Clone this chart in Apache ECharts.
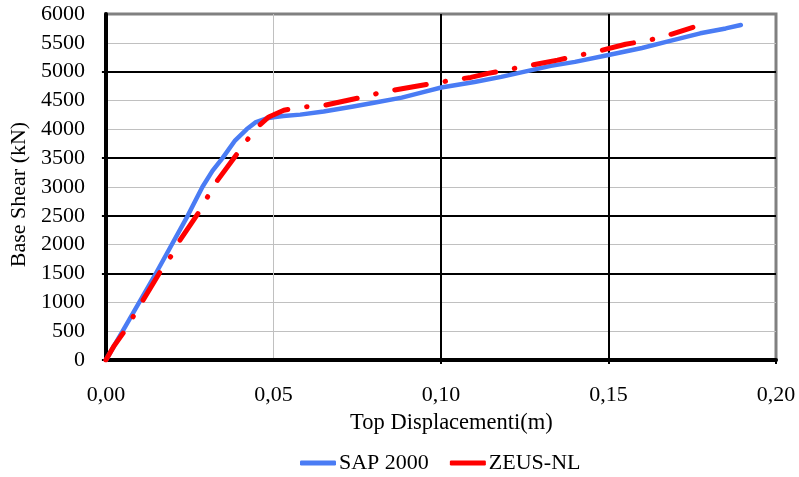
<!DOCTYPE html>
<html>
<head>
<meta charset="utf-8">
<script src="https://cdn.jsdelivr.net/npm/echarts@6/dist/echarts.min.js"></script>
<style>html,body{margin:0;padding:0;background:#fff}#c{width:799px;height:477px}</style>
</head>
<body>
<div id="c"></div>
<script>
// ---- data ----
const sapName = 'SAP 2000';
const zeusName = 'ZEUS-NL';
const sapDisp  = [0, 0.005, 0.0149, 0.0244, 0.0288, 0.0318, 0.0348, 0.0386, 0.042, 0.0446, 0.048, 0.050, 0.053, 0.058, 0.065, 0.0734, 0.080, 0.0883, 0.095, 0.1001, 0.110, 0.118, 0.125, 0.1328, 0.140, 0.150, 0.160, 0.1675, 0.1774, 0.185, 0.1895];
const sapShear = [0, 500, 1500, 2500, 3000, 3280, 3500, 3810, 4000, 4120, 4190, 4210, 4230, 4255, 4310, 4390, 4460, 4550, 4650, 4725, 4820, 4910, 5000, 5100, 5170, 5290, 5410, 5520, 5665, 5750, 5810];
const zeusDisp  = [0, 0.0025, 0.0053, 0.008, 0.011, 0.0161, 0.0192, 0.0219, 0.0276, 0.0303, 0.0333, 0.0392, 0.0425, 0.0447, 0.0486, 0.0531, 0.0585, 0.064, 0.0779, 0.0828, 0.1036, 0.1089, 0.1141, 0.1348, 0.140, 0.1455, 0.1551, 0.1606, 0.1655, 0.1752];
const zeusShear = [0, 250, 480, 740, 1030, 1520, 1780, 2060, 2550, 2825, 3115, 3580, 3840, 4015, 4215, 4330, 4390, 4400, 4575, 4650, 4855, 4900, 4970, 5200, 5270, 5335, 5475, 5530, 5590, 5770];
const xTickLabels = ['0,00', '0,05', '0,10', '0,15', '0,20'];
const yTickLabels = ['0','500','1000','1500','2000','2500','3000','3500','4000','4500','5000','5500','6000'];
const xTitle = 'Top Displacementi(m)';
const yTitle = 'Base Shear (kN)';

const FONT = 'Liberation Serif, Times New Roman, serif';
const T = 'transparent';
const sapData = sapDisp.map((d, i) => [d, sapShear[i]]);
const zeusData = zeusDisp.map((d, i) => [d, zeusShear[i]]);

const chart = echarts.init(document.getElementById('c'), null, {renderer: 'canvas'});
const xBase = {type: 'value', min: 0, max: 0.2, interval: 0.05, position: 'bottom'};
const yBase = {type: 'value', min: 0, max: 6000, interval: 500, position: 'left'};
chart.setOption({
  animation: false,
  backgroundColor: '#fff',
  grid: {left: 103, right: 23, top: 14, bottom: 117, show: true, borderColor: '#808080', borderWidth: 3, backgroundColor: 'transparent'},
  legend: {
    top: 447, left: 295, itemGap: 21, itemWidth: 36, itemHeight: 5,
    icon: 'roundRect',
    textStyle: {fontFamily: FONT, fontSize: 22, color: '#000', padding: [0, 0, 0, -2]},
    data: [sapName, zeusName]
  },
  xAxis: [
    Object.assign({}, xBase, {
      axisLine: {show: true, lineStyle: {color: '#000', width: 4}},
      axisTick: {show: false},
      axisLabel: {fontFamily: FONT, fontSize: 22, color: '#000', margin: 24,
        formatter: v => xTickLabels[Math.round(v / 0.05)]},
      splitLine: {show: true, lineStyle: {color: [T, '#c0c0c0', T, T, T], width: 1}},
      name: xTitle, nameLocation: 'middle', nameGap: 52,
      nameTextStyle: {fontFamily: FONT, fontSize: 22.5, color: '#000', padding: [0, 0, 0, 21]}
    }),
    Object.assign({}, xBase, {
      axisLine: {show: false}, axisTick: {show: false}, axisLabel: {show: false},
      splitLine: {show: true, lineStyle: {color: [T, T, '#000', '#000', T], width: 2}}
    }),
    Object.assign({}, xBase, {
      axisLine: {show: false}, axisLabel: {show: false}, splitLine: {show: false},
      axisTick: {show: true, inside: false, length: 4, customValues: [0.1, 0.15, 0.2], lineStyle: {color: '#000', width: 2}}
    })
  ],
  yAxis: [
    Object.assign({}, yBase, {
      axisLine: {show: true, lineStyle: {color: '#000', width: 4}},
      axisTick: {show: false},
      axisLabel: {fontFamily: FONT, fontSize: 22, color: '#000', margin: 21,
        formatter: v => yTickLabels[Math.round(v / 500)]},
      splitLine: {show: true, lineStyle: {color: [T, '#c0c0c0', '#c0c0c0', T, '#c0c0c0', T, '#c0c0c0', T, '#c0c0c0', '#c0c0c0', T, '#c0c0c0', T], width: 1}},
      name: yTitle, nameLocation: 'middle', nameGap: 70,
      nameTextStyle: {fontFamily: FONT, fontSize: 22, color: '#000', padding: [0, 15, 0, 0]}
    }),
    Object.assign({}, yBase, {
      axisLine: {show: false}, axisTick: {show: false}, axisLabel: {show: false},
      splitLine: {show: true, lineStyle: {color: [T, T, T, '#000', T, '#000', T, '#000', T, T, '#000', T, T], width: 2}}
    }),
    Object.assign({}, yBase, {
      axisLine: {show: false}, axisLabel: {show: false}, splitLine: {show: false},
      axisTick: {show: true, inside: false, length: 4, customValues: [0, 1500, 2500, 3500, 5000], lineStyle: {color: '#000', width: 2}}
    })
  ],
  series: [
    {name: sapName, type: 'line', data: sapData, showSymbol: false, symbol: 'none', z: 3,
     itemStyle: {color: '#4a7cf4'},
     lineStyle: {color: '#4a7cf4', width: 4.5, cap: 'round', join: 'round'}},
    {name: zeusName, type: 'line', data: zeusData, showSymbol: false, symbol: 'none', z: 4,
     itemStyle: {color: '#ff0000'},
     lineStyle: {color: '#ff0000', width: 5, cap: 'round', join: 'round', type: [32, 19, 0.5, 19]}}
  ]
});
</script>
</body>
</html>
